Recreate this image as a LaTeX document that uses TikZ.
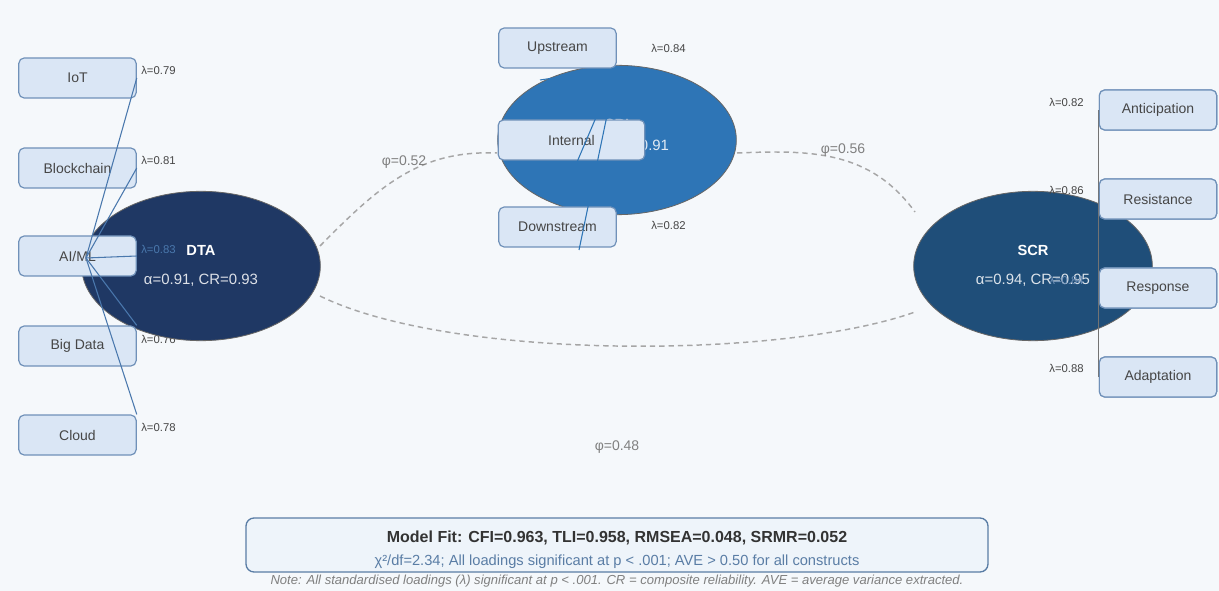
\documentclass[tikz,border=0pt]{standalone}
\usepackage{fontspec}
\setmainfont{Liberation Sans}
\usetikzlibrary{shapes.geometric}

\definecolor{bgcol}{RGB}{245,248,251}
\definecolor{boxfill}{RGB}{218,230,245}
\definecolor{boxdraw}{RGB}{112,145,185}
\definecolor{txtgray}{RGB}{70,70,70}
\definecolor{dtacol}{RGB}{31,56,100}
\definecolor{sricol}{RGB}{46,117,182}
\definecolor{scrcol}{RGB}{31,78,121}
\definecolor{loadcol}{RGB}{74,120,173}
\definecolor{fitfill}{RGB}{238,244,250}
\definecolor{fitblue}{RGB}{90,125,165}

\tikzset{
  indbox/.style={draw=boxdraw, line width=0.9pt, fill=boxfill, rounded corners=4pt,
    minimum width=88pt, minimum height=30pt, inner sep=0pt, text=txtgray, font=\fontsize{10.5}{12}\selectfont},
  latent/.style={ellipse, draw=black!60, line width=0.6pt, minimum width=179pt, minimum height=112pt, inner sep=0pt},
  lam/.style={inner sep=0.75pt, text=txtgray, font=\fontsize{8.5}{10}\selectfont},
  corr/.style={draw=gray!70, line width=1.1pt, dash pattern=on 4pt off 3pt},
  phi/.style={inner sep=0.75pt, text=gray, font=\fontsize{10.5}{12}\selectfont},
  load/.style={draw=loadcol, line width=0.8pt}
}

\begin{document}
\begin{tikzpicture}[x=0.75pt,y=0.75pt,yscale=-1,xscale=1]
%set diagram frame 1219 x 591
\fill[bgcol] (0,0) rectangle (1219,591);
\useasboundingbox (0,0) rectangle (1219,591);

% loading hidden behind DTA
\draw (140,339) node [lam, anchor=west] (lamBig) {λ=0.76};

% correlations
\coordinate (dtaNE) at (320,246);
\coordinate (dtaSE) at (320,296);
\coordinate (sriW) at (497,153);
\coordinate (sriE) at (737,153);
\coordinate (scrNW) at (915,212);
\coordinate (scrSW) at (915,312);
\draw [corr] (dtaNE) .. controls (380,185) and (420,150) .. (sriW);
\draw [corr] (sriE) .. controls (810,150) and (870,150) .. (scrNW);
\draw [corr] (dtaSE) .. controls (450,360) and (780,360) .. (scrSW);
\draw (404,162) node [phi] (phiA) {φ=0.52};
\draw (843,150) node [phi] (phiB) {φ=0.56};
\draw (617,447) node [phi] (phiC) {φ=0.48};

% latent variables
\node [latent, fill=dtacol] (dta) at (201,266) {};
\node [latent, fill=sricol] (sri) at (617,140) {};
\node [latent, fill=scrcol] (scr) at (1033,266) {};
\draw (201,250) node [text=white, font=\bfseries\fontsize{11}{12}\selectfont] (dtaT) {DTA};
\draw (201,280) node [text=white!85!dtacol, font=\fontsize{11.2}{13}\selectfont] (dtaS) {α=0.91, CR=0.93};
\draw (617,124) node [text=white, font=\bfseries\fontsize{11}{12}\selectfont] (sriT) {SRI};
\draw (612,146) node [text=white!85!sricol, font=\fontsize{11.2}{13}\selectfont] (sriS) {α=0.88, CR=0.91};
\draw (1033,250) node [text=white, font=\bfseries\fontsize{11}{12}\selectfont] (scrT) {SCR};
\draw (1033,280) node [text=white!85!scrcol, font=\fontsize{11.2}{13}\selectfont] (scrS) {α=0.94, CR=0.95};

% SCR indicators, lines behind boxes
\node [indbox] (ant) at (1158,110) {Anticipation};
\node [indbox] (res) at (1158,199) {Resistance};
\node [indbox] (rsp) at (1158,288) {Response};
\node [indbox] (ada) at (1158,377) {Adaptation};
\coordinate (scrP) at (ant.west |- scr.center);
\draw [draw=black!55, line width=0.7pt] (scrP) -- (ant.west) (scrP) -- (ada.west);
\node [indbox] at (ant) {Anticipation};
\node [indbox] at (res) {Resistance};
\node [indbox] at (rsp) {Response};
\node [indbox] at (ada) {Adaptation};

% DTA indicators
\node [indbox] (iot) at (77.5,78) {IoT};
\node [indbox] (blk) at (77.5,168) {Blockchain};
\node [indbox] (aiml) at (77.5,256) {AI/ML};
\node [indbox] (big) at (77.5,346) {Big Data};
\node [indbox] (cld) at (77.5,435) {Cloud};

% SRI indicators
\node [indbox] (ups) at (557.5,48) {Upstream};
\node [indbox, minimum width=110pt] (int) at (571.5,140) {Internal};
\node [indbox] (dns) at (557.5,227) {Downstream};

% loadings
\coordinate (dtaP) at (86,258);
\draw [load] (dtaP) -- (iot.east);
\draw [load] (dtaP) -- (blk.east);
\draw [load] (dtaP) -- (aiml.east);
\draw [load] (dtaP) -- (big.north east);
\draw [load] (dtaP) -- (cld.north east);
\coordinate (sriA) at (579,250);
\coordinate (sriB) at (563,195);
\coordinate (sriC) at (540,80);
\draw [load, draw=sricol] (ups.south east) -- (sriA);
\draw [load, draw=sricol] (ups.south east) -- (sriB);
\draw [load, draw=sricol] (ups.south east) -- (sriC);

\draw (140,70) node [lam, anchor=west] (lamIot) {λ=0.79};
\draw (140,160) node [lam, anchor=west] (lamBlk) {λ=0.81};
\draw (140,249) node [lam, anchor=west, text=loadcol] (lamAi) {λ=0.83};
\draw (140,427) node [lam, anchor=west] (lamCld) {λ=0.78};
\draw (650,48) node [lam, anchor=west] (lamUps) {λ=0.84};
\draw (650,225) node [lam, anchor=west] (lamDns) {λ=0.82};
\draw (1085,102) node [lam, anchor=east] (lamAnt) {λ=0.82};
\draw (1085,190) node [lam, anchor=east] (lamRes) {λ=0.86};
\draw (1085,280) node [lam, anchor=east, text=boxdraw] (lamRsp) {λ=0.84};
\draw (1085,368) node [lam, anchor=east] (lamAda) {λ=0.88};

% model fit
\draw [draw=fitblue, line width=1pt, fill=fitfill, rounded corners=6pt] (246,518) rectangle (988,572);
\draw (617,538) node [text=black!80, font=\bfseries\fontsize{12}{14}\selectfont] (fitA) {Model Fit: CFI=0.963, TLI=0.958, RMSEA=0.048, SRMR=0.052};
\draw (617,562) node [text=fitblue, font=\fontsize{11}{13}\selectfont] (fitB) {χ²/df=2.34; All loadings significant at p < .001; AVE > 0.50 for all constructs};
\draw (617,581) node [text=gray, font=\itshape\fontsize{9.8}{11}\selectfont] (note) {Note: All standardised loadings (λ) significant at p < .001. CR = composite reliability. AVE = average variance extracted.};

\end{tikzpicture}
\end{document}
